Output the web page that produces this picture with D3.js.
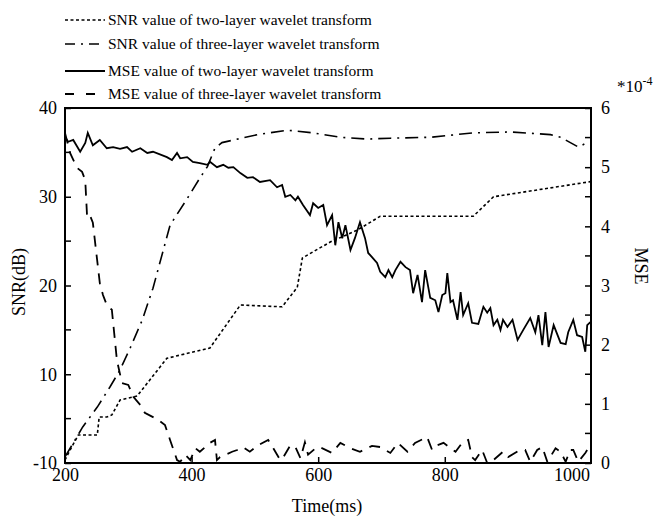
<!DOCTYPE html>
<html><head><meta charset="utf-8">
<script src="https://cdn.jsdelivr.net/npm/d3@7"></script>
<style>
body{margin:0;background:#fff;}
svg text{font-family:"Liberation Serif","Times New Roman",serif;fill:#000;}
</style></head>
<body><svg id="c" width="656" height="518"></svg>
<script>
// ---- data ----
const timeTicks = [200, 400, 600, 800, 1000];
const snrTicks = [0, 10, 20, 30, 40];
const snrTickLabels = ["-10", "10", "20", "30", "40"];
const snrMinor = [5, 15, 25, 35];
const mseTicks = [0, 1, 2, 3, 4, 5, 6];
const mseMinor = [0.5, 1.5, 2.5, 3.5, 4.5, 5.5];

const snrTwoT = [200,208,221,251,254,266,274,287,314,361,429,477,543,567,575,619,662,698,829,845,877,1030];
const snrTwoV = [0.34,1.46,3.15,3.15,5.18,5.18,5.41,7.1,7.55,11.8,12.96,17.8,17.6,19.8,23.1,24.9,26.25,27.8,27.8,27.8,30.0,31.7];

const snrThreeT = [200,228,251,271,287,303,322,339,366,394,413,425,437,448,504,551,592,635,677,714,777,845,904,967,983,1011,1028];
const snrThreeV = [0.68,4.06,6.3,8.56,10.5,12.96,16.1,19.7,26.8,29.9,32.1,33.4,35.5,36.1,37.0,37.5,37.2,36.7,36.5,36.6,36.7,37.2,37.3,37.0,36.7,35.6,36.2];

const mseTwoT = [200,205,213,224,232,236,244,255,266,276,287,298,306,319,330,339,361,369,377,382,393,402,413,425,429,440,450,458,466,477,488,497,508,524,535,543,548,556,564,568,576,587,592,600,608,614,622,627,632,638,643,651,658,666,674,679,685,693,698,706,711,717,722,730,738,745,750,757,764,769,777,785,790,796,801,804,809,813,820,825,829,837,843,853,861,867,872,877,883,888,892,899,907,915,924,935,943,948,954,959,964,972,983,991,995,1003,1009,1017,1022,1025,1030];
const mseTwoV = [5.51,5.43,5.46,5.26,5.41,5.58,5.37,5.46,5.32,5.34,5.31,5.34,5.26,5.32,5.24,5.26,5.17,5.12,5.24,5.15,5.17,5.09,5.07,5.04,5.09,5.0,5.04,4.99,5.0,4.90,4.82,4.83,4.75,4.78,4.66,4.70,4.50,4.53,4.44,4.50,4.36,4.19,4.39,4.31,4.36,4.02,4.19,3.68,4.07,3.80,4.02,3.60,3.80,4.07,3.80,3.55,3.48,3.38,3.23,3.14,3.26,3.14,3.26,3.40,3.31,3.26,2.87,3.18,2.72,3.26,2.79,2.75,2.55,2.84,2.87,3.21,2.72,2.75,2.42,2.89,2.50,2.70,2.37,2.35,2.64,2.54,2.62,2.33,2.42,2.25,2.42,2.30,2.42,2.08,2.25,2.45,2.21,2.50,1.99,2.55,1.96,2.33,2.03,2.01,2.21,2.42,2.16,2.13,1.88,2.33,2.38];

const mseThreeT = [200,208,219,227,232,235,240,244,255,260,266,274,282,290,300,308,319,326,347,358,366,377,382,390,398,406,413,429,437,440,445,464,472,481,492,505,521,529,540,545,556,564,572,579,584,598,606,622,635,651,666,685,698,714,726,741,753,772,780,788,798,817,828,837,843,848,859,867,877,892,900,919,927,935,946,954,962,975,983,991,998,1003,1011,1022,1030];
const mseThreeV = [5.58,5.24,4.99,4.92,4.78,4.14,4.17,4.06,3.04,2.84,2.67,2.59,1.74,1.35,1.32,1.12,0.98,0.85,0.73,0.64,0.39,0.05,0.02,0.14,0.05,0.25,0.19,0.34,0.39,0.05,0.10,0.19,0.22,0.27,0.19,0.30,0.39,0.25,0.05,0.10,0.30,0.27,0.08,0.35,0.14,0.27,0.25,0.17,0.34,0.25,0.19,0.29,0.27,0.17,0.34,0.19,0.34,0.44,0.22,0.30,0.34,0.19,0.35,0.39,0.10,0.05,0.22,0.0,0.05,0.19,0.10,0.22,0.22,0.02,0.22,0.27,0.02,0.25,0.19,0.02,0.22,0.22,0.02,0.17,0.30];

const legendLabels = [
  "SNR value of two-layer wavelet transform",
  "SNR value of three-layer wavelet transform",
  "MSE value of two-layer wavelet transform",
  "MSE value of three-layer wavelet transform"
];

// ---- chart ----
const svg = d3.select("#c");
const L = 65, R = 591, T = 108, B = 463;
const x = d3.scaleLinear().domain([200, 1031]).range([L, R]);
const yS = d3.scaleLinear().domain([0, 40]).range([B, T]);
const yM = d3.scaleLinear().domain([0, 6]).range([B, T]);

const zip = (a, b) => a.map((t, i) => [t, b[i]]);
const lineS = d3.line().x(d => x(d[0])).y(d => yS(d[1]));
const lineM = d3.line().x(d => x(d[0])).y(d => yM(d[1]));

const styles = [
  {dash: "3,2.5", w: 1.6},
  {dash: "13,6,2,6", w: 1.6},
  {dash: null, w: 1.8},
  {dash: "11,8", w: 1.8}
];

const g = svg.append("g");
g.append("path").attr("d", lineS(zip(snrTwoT, snrTwoV))).attr("fill","none").attr("stroke","#000")
  .attr("stroke-width", styles[0].w).attr("stroke-dasharray", styles[0].dash);
g.append("path").attr("d", lineS(zip(snrThreeT, snrThreeV))).attr("fill","none").attr("stroke","#000")
  .attr("stroke-width", styles[1].w).attr("stroke-dasharray", styles[1].dash);
g.append("path").attr("d", lineM(zip(mseTwoT, mseTwoV))).attr("fill","none").attr("stroke","#000")
  .attr("stroke-width", styles[2].w).attr("stroke-linejoin","miter");
g.append("path").attr("d", lineM(zip(mseThreeT, mseThreeV))).attr("fill","none").attr("stroke","#000")
  .attr("stroke-width", styles[3].w).attr("stroke-dasharray", styles[3].dash);

// axes
const fontTick = "18px";
const ax = svg.append("g").attr("transform", `translate(0,${B})`)
  .call(d3.axisBottom(x).tickValues(timeTicks).tickSizeInner(-6).tickSizeOuter(0).tickPadding(5).tickFormat(d3.format("d")));
ax.select(".domain").remove();
ax.selectAll("text").style("font-size", fontTick).attr("font-family", null);
ax.selectAll(".tick line").attr("stroke-width", 1.5).filter(d => d === 200 || d === 1000).remove();

const ay = svg.append("g").attr("transform", `translate(${L},0)`)
  .call(d3.axisLeft(yS).tickValues(snrTicks).tickSizeInner(-6).tickSizeOuter(0).tickPadding(8)
    .tickFormat((d, i) => snrTickLabels[i]));
ay.select(".domain").remove();
ay.selectAll("text").style("font-size", fontTick).attr("font-family", null);
ay.selectAll(".tick line").attr("stroke-width", 1.5);
svg.append("g").selectAll("line").data(snrMinor).join("line")
  .attr("x1", L).attr("x2", L + 6).attr("y1", d => yS(d)).attr("y2", d => yS(d))
  .attr("stroke", "#000").attr("stroke-width", 1.5);

const ar = svg.append("g").attr("transform", `translate(${R},0)`)
  .call(d3.axisRight(yM).tickValues(mseTicks).tickSizeInner(-6).tickSizeOuter(0).tickPadding(10).tickFormat(d3.format("d")));
ar.select(".domain").remove();
ar.selectAll("text").style("font-size", fontTick).attr("font-family", null);
ar.selectAll(".tick line").attr("stroke-width", 1.5);
svg.append("g").selectAll("line").data(mseMinor).join("line")
  .attr("x1", R - 6).attr("x2", R).attr("y1", d => yM(d)).attr("y2", d => yM(d))
  .attr("stroke", "#000").attr("stroke-width", 1.5);

// frame
svg.append("rect").attr("x", L).attr("y", T).attr("width", R - L).attr("height", B - T)
  .attr("fill", "none").attr("stroke", "#000").attr("stroke-width", 2);

// axis titles
svg.append("text").attr("x", 327).attr("y", 512).attr("text-anchor", "middle").style("font-size", "18px").text("Time(ms)");
svg.append("text").attr("transform", "translate(25,282) rotate(-90)").attr("text-anchor", "middle").style("font-size", "18px").text("SNR(dB)");
svg.append("text").attr("transform", "translate(635,266) rotate(90)").attr("text-anchor", "middle").style("font-size", "18px").text("MSE");
const sup = svg.append("text").attr("x", 617).attr("y", 92).style("font-size", "17px");
sup.append("tspan").text("*10");
sup.append("tspan").attr("dy", -7).style("font-size", "12px").text("-4");

// legend
const legY = [20, 44, 71, 94];
const legSample = [[65,105],[65,105],[65,105],[65,96]];
const leg = svg.append("g");
legendLabels.forEach((lab, i) => {
  leg.append("line").attr("x1", legSample[i][0]).attr("x2", legSample[i][1]).attr("y1", legY[i]).attr("y2", legY[i])
    .attr("stroke", "#000").attr("stroke-width", styles[i].w)
    .attr("stroke-dasharray", i === 1 ? "10,6,2,6" : (i === 3 ? "9,12" : styles[i].dash));
  leg.append("text").attr("x", 108).attr("y", legY[i] + 5).style("font-size", "15.5px").text(lab);
});
</script>
</body></html>
